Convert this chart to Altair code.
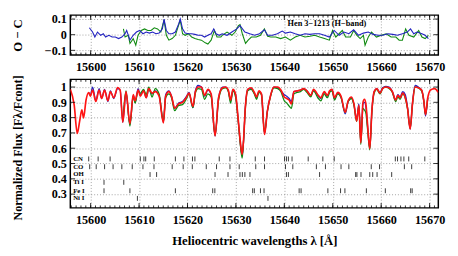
import altair as alt
import pandas as pd

# ---------------- data ----------------
WL = [15595.8, 15596.6, 15597.24, 15597.73, 15598.19, 15598.53, 15599.05, 15599.6, 15599.94, 15600.4,
      15601.07, 15601.75, 15602.27, 15602.88, 15603.56, 15604.08, 15604.77, 15605.57, 15606.1, 15606.64,
      15607.3, 15608.11, 15608.79, 15609.19, 15609.8, 15610.26, 15610.93, 15611.47, 15612.01, 15612.68,
      15613.34, 15614.14, 15615.03, 15615.49, 15616.16, 15616.7, 15617.36, 15618.17, 15618.97, 15619.72,
      15620.32, 15621.13, 15621.63, 15622.19, 15622.88, 15623.54, 15624.2, 15624.89, 15625.69, 15626.42,
      15627.22, 15627.91, 15628.43, 15628.91, 15629.38, 15629.92, 15630.44, 15630.92, 15631.29, 15631.59,
      15631.93, 15632.45, 15633.14, 15633.8, 15634.26, 15634.75, 15635.27, 15635.91, 15636.48, 15637.16,
      15637.83, 15638.63, 15639.29, 15639.98, 15640.5, 15640.99, 15641.45, 15641.99, 15642.66, 15643.32,
      15644.0, 15644.67, 15645.47, 15646.01, 15647.02, 15647.54, 15648.23, 15648.89, 15649.35, 15649.84,
      15650.36, 15651.04, 15651.71, 15652.57, 15653.18, 15653.86, 15654.38, 15654.93, 15655.39, 15655.79,
      15656.24, 15656.54, 15656.84, 15657.2, 15657.64, 15658.09, 15658.55, 15659.09, 15659.76, 15660.3,
      15660.96, 15661.63, 15662.31, 15662.98, 15663.44, 15663.92, 15664.44, 15664.99, 15665.45, 15665.99,
      15666.46, 15667.0, 15667.66, 15668.35, 15668.81, 15669.15, 15669.62, 15670.16, 15671.02, 15671.8]

RED = [0.985, 0.883, 0.696, 0.777, 0.851, 0.798, 0.915, 0.964, 0.94, 0.98,
       0.906, 0.98, 0.926, 0.98, 0.91, 0.97, 0.93, 0.996, 0.98, 0.77,
       0.97, 0.76, 0.95, 0.91, 0.98, 0.94, 0.975, 0.93, 0.99, 0.96,
       0.97, 0.94, 0.766, 0.94, 0.97, 0.94, 0.862, 0.89, 0.90, 0.93,
       0.96, 0.873, 0.97, 1.0, 1.0, 0.945, 0.985, 0.955, 0.68, 0.93,
       0.995, 1.0, 0.98, 0.915, 0.985, 0.955, 0.80, 0.64, 0.56, 0.66,
       0.86, 0.985, 0.995, 0.965, 0.935, 0.975, 0.955, 0.69, 0.84, 0.945,
       1.0, 1.0, 0.98, 0.935, 0.925, 0.915, 0.89, 0.97, 0.975, 0.98,
       0.99, 0.975, 0.945, 0.985, 0.945, 0.93, 0.97, 0.945, 0.975, 0.985,
       0.93, 0.965, 0.94, 0.835, 0.91, 0.935, 0.89, 0.777, 0.88, 0.635,
       0.90, 0.92, 0.89, 0.75, 0.597, 0.85, 0.97, 0.99, 0.96, 0.99,
       1.0, 0.995, 0.97, 0.915, 0.945, 0.93, 0.96, 0.93, 0.86, 0.725,
       0.89, 1.0, 0.995, 0.98, 0.91, 0.82, 0.93, 0.98, 0.99, 0.965]

BLUE = [None, None, None, None, None, None, None, 0.965, 0.945, 1.0,
        0.91, 0.99, 0.925, 0.985, 0.905, 0.975, 0.925, 0.99, 0.98, 0.77,
        0.965, 0.755, 0.945, 0.90, 0.99, 0.95, 0.98, 0.93, 0.985, 0.955,
        0.975, 0.945, 0.77, 0.95, 0.975, 0.94, 0.86, 0.895, 0.905, 0.935,
        0.965, 0.865, 0.975, 1.01, 1.0, 0.94, 0.98, 0.95, 0.68, 0.93,
        1.0, 1.0, 0.975, 0.91, 0.98, 0.95, 0.795, 0.63, 0.55, 0.655,
        0.86, 0.985, 0.99, 0.96, 0.93, 0.97, 0.955, 0.695, 0.84, 0.945,
        1.0, 0.995, 0.975, 0.95, 0.94, 0.925, 0.905, 0.97, 0.975, 0.98,
        0.99, 0.975, 0.945, 0.98, 0.94, 0.925, 0.965, 0.94, 0.97, 0.985,
        0.925, 0.96, 0.935, 0.825, 0.905, 0.93, 0.885, 0.79, 0.89, 0.64,
        0.89, 0.90, 0.87, 0.74, 0.60, 0.85, 0.97, 0.99, 0.965, 0.995,
        1.005, 1.0, 0.97, 0.915, 0.95, 0.935, 0.97, 0.95, 0.865, 0.725,
        0.895, 1.01, 1.0, 0.98, 0.905, 0.81, 0.93, None, None, None]

GREEN = [None, None, None, None, None, None, None, None, None, None,
         None, None, None, None, None, None, None, None, None, 0.78,
         0.975, 0.745, 0.94, 0.895, 0.975, 0.96, 0.985, 0.95, 1.0, 0.935,
         0.99, 0.955, 0.775, 0.93, 0.955, 0.93, 0.845, 0.88, 0.885, 0.92,
         0.955, 0.865, 0.96, 0.99, 0.985, 0.92, 0.955, 0.935, 0.685, 0.915,
         0.99, 0.995, 0.97, 0.895, 0.975, 0.935, 0.79, 0.62, 0.535, 0.65,
         0.85, 0.975, 0.985, 0.955, 0.92, 0.965, 0.95, 0.70, 0.835, 0.94,
         0.995, 0.99, 0.97, 0.91, 0.895, 0.875, 0.86, 0.955, 0.965, 0.97,
         0.985, 0.965, 0.935, 0.975, 0.925, 0.91, 0.955, 0.93, 0.965, 0.975,
         0.915, 0.955, 0.93, 0.835, 0.905, 0.925, 0.88, 0.775, 0.875, 0.625,
         0.86, 0.85, 0.83, 0.72, 0.59, 0.84, 0.96, 0.985, 0.955, 0.99,
         1.0, 0.99, 0.965, 0.905, 0.935, 0.92, 0.955, 0.925, 0.855, 0.73,
         0.885, 1.0, 0.995, 0.975, 0.91, 0.82, 0.93, None, None, None]

RES_B_WL = [15599.73, 15600.4, 15600.87, 15601.41, 15602.08, 15602.62, 15603.09, 15603.76, 15604.43, 15605.1,
            15605.77, 15606.44, 15607.11, 15607.44, 15608.12, 15608.79, 15609.46, 15610.13, 15610.8, 15611.47,
            15612.14, 15612.81, 15613.48, 15614.15, 15614.82, 15615.16, 15615.63, 15616.16, 15616.83, 15617.5,
            15618.18, 15618.51, 15618.98, 15619.52, 15620.19, 15620.86, 15621.53, 15622.2, 15622.87, 15623.54,
            15624.21, 15624.88, 15625.42, 15625.89, 15626.56, 15627.16, 15628.17, 15629.17, 15630.18, 15630.85,
            15631.85, 15632.86, 15633.87, 15634.87, 15635.88, 15636.55, 15637.56, 15638.56, 15639.57, 15640.24,
            15641.24, 15642.25, 15643.26, 15644.26, 15645.27, 15646.27, 15647.28, 15648.29, 15649.29, 15650.3,
            15651.31, 15652.31, 15653.32, 15654.32, 15655.33, 15656.33, 15657.34, 15658.35, 15659.35, 15660.36,
            15661.36, 15662.37, 15663.38, 15664.38, 15665.39, 15666.06, 15666.73, 15667.4, 15668.41, 15669.08,
            15669.75]
RES_B = [0.044, 0.017, -0.015, 0.017, -0.004, 0.006, -0.015, -0.004, -0.015, -0.015,
         -0.025, -0.015, 0.006, 0.027, -0.035, -0.004, 0.017, 0.027, 0.006, 0.017,
         0.010, 0.017, 0.006, 0.010, 0.037, 0.100, 0.027, 0.006, 0.006, 0.017,
         0.069, 0.100, 0.037, 0.010, 0.006, 0.006, 0.002, -0.004, -0.004, -0.015,
         -0.004, 0.006, 0.037, 0.006, -0.004, 0.006, -0.004, 0.017, 0.037, 0.058,
         0.017, 0.006, -0.004, 0.006, 0.031, -0.004, -0.004, 0.006, 0.023, 0.010,
         0.017, 0.006, -0.004, 0.006, 0.002, 0.006, 0.006, -0.004, -0.015, 0.027,
         -0.004, 0.017, 0.006, 0.031, -0.004, 0.010, 0.017, 0.002, -0.004, -0.004,
         0.006, 0.002, -0.004, 0.006, 0.017, 0.037, 0.006, 0.017, 0.006, -0.004,
         -0.025]

RES_G_WL = [15606.77, 15607.11, 15607.78, 15608.12, 15608.79, 15609.32, 15609.79, 15610.46, 15611.13, 15611.8,
            15612.47, 15613.15, 15613.82, 15614.49, 15615.16, 15615.63, 15616.16, 15616.83, 15617.5, 15618.04,
            15618.51, 15618.98, 15619.52, 15620.19, 15620.86, 15621.53, 15622.2, 15622.87, 15623.68, 15624.21,
            15624.88, 15625.55, 15626.09, 15626.89, 15627.16, 15628.17, 15629.17, 15629.84, 15630.51, 15630.85,
            15631.32, 15631.99, 15632.53, 15633.2, 15634.2, 15635.07, 15635.88, 15636.55, 15637.22, 15638.23,
            15639.23, 15640.24, 15641.24, 15642.25, 15643.26, 15644.26, 15645.27, 15646.27, 15647.28, 15648.29,
            15649.29, 15649.96, 15650.63, 15651.31, 15651.98, 15652.65, 15653.65, 15654.32, 15654.99, 15655.66,
            15656.33, 15656.67, 15657.34, 15658.01, 15659.02, 15660.02, 15661.03, 15662.04, 15663.04, 15663.71,
            15664.38, 15665.05, 15665.73, 15666.73, 15667.74, 15668.41, 15669.08, 15669.75]
RES_G = [0.037, -0.015, -0.004, -0.056, -0.025, -0.067, -0.004, 0.027, 0.037, 0.027,
         0.027, 0.044, 0.037, 0.017, 0.094, -0.004, -0.035, -0.025, -0.004, 0.048,
         0.094, 0.006, -0.004, 0.006, -0.015, -0.025, -0.031, -0.035, -0.052, -0.060,
         -0.035, 0.027, -0.015, -0.015, -0.004, 0.017, -0.004, 0.017, 0.058, 0.065,
         0.006, -0.056, -0.035, -0.015, -0.015, -0.004, 0.037, -0.010, -0.015, -0.015,
         -0.025, -0.015, -0.035, -0.015, -0.004, -0.015, -0.010, -0.004, -0.015, -0.025,
         -0.035, 0.027, -0.015, 0.006, 0.027, -0.015, -0.015, 0.027, -0.004, -0.025,
         -0.004, -0.067, -0.015, 0.017, -0.015, -0.004, 0.006, -0.015, -0.015, -0.035,
         -0.035, 0.037, -0.004, -0.015, 0.027, -0.015, -0.025, -0.004]

SPECIES = ["CN", "CO", "OH", "Ti I", "Fe I", "Ni I"]
ROW_Y = [0.53, 0.479, 0.428, 0.377, 0.322, 0.272]
CN = [15599.6, 15601.55, 15604.02, 15610.26, 15611.0, 15611.37, 15613.14, 15617.5, 15619.26, 15621.03,
      15621.53, 15626.56, 15628.77, 15634.0, 15635.91, 15640.04, 15640.44, 15640.84, 15641.59, 15644.93,
      15647.95, 15650.3, 15662.92, 15663.38, 15664.08, 15664.69, 15665.69, 15669.01]
CO = [15599.8, 15601.15, 15602.88, 15604.63, 15606.44, 15608.59, 15610.8, 15613.08, 15616.84, 15619.11,
      15620.99, 15623.88, 15626.0, 15628.77, 15630.68, 15634.1, 15635.91, 15640.24, 15641.75, 15646.62,
      15648.49, 15651.71, 15653.32, 15657.95, 15659.66, 15664.79, 15666.3]
OH = [15612.27, 15613.62, 15625.69, 15628.37, 15630.84, 15631.33, 15631.85, 15632.9, 15640.44, 15640.84,
      15647.28, 15654.73, 15654.99, 15655.83, 15657.64, 15658.25, 15659.15, 15662.17]
TI = [15602.76, 15606.84]
FE = [15602.76, 15608.11, 15617.5, 15625.21, 15625.65, 15633.46, 15633.8, 15635.07, 15635.81, 15643.06,
      15643.46, 15648.99, 15651.61, 15652.51, 15656.94, 15660.86, 15666.09, 15666.4]
NI = [15609.66, 15636.62]
LINE_LISTS = [CN, CO, OH, TI, FE, NI]

X_MAJOR = [15600, 15610, 15620, 15630, 15640, 15650, 15660, 15670]
X_MINOR = list(range(15596, 15672))
TOP_Y_TICKS = [-0.1, 0.0, 0.1]
BOT_Y_TICKS = [0.3, 0.4, 0.5, 0.6, 0.7, 0.8, 0.9, 1.0]

# ---------------- styling ----------------
FONT = "Liberation Serif"
W = 378
H_TOP = 41
H_BOT = 132
C_RED = "#ff1414"
C_BLUE = "#2222c0"
C_GREEN = "#108a10"
GRID = dict(grid=True, gridDash=[1, 2], gridColor="#8a8a8a", gridWidth=0.8)

xs = alt.Scale(domain=[15595.8, 15671.8], nice=False, zero=False)
ys_top = alt.Scale(domain=[-0.13, 0.125], nice=False, zero=False)
ys_bot = alt.Scale(domain=[0.21, 1.05], nice=False, zero=False)

spec = pd.DataFrame({"wl": WL, "red": RED, "blue": BLUE, "green": GREEN})
resb = pd.DataFrame({"wl": RES_B_WL, "r": RES_B})
resg = pd.DataFrame({"wl": RES_G_WL, "r": RES_G})
minors = pd.DataFrame({"t": X_MINOR})
majors = pd.DataFrame({"t": X_MAJOR})


def frame_ticks(ys, yvals, h):
    ytk = pd.DataFrame({"v": yvals})
    layers = []
    for src, ln in ((minors, 2.5), (majors, 5)):
        layers.append(alt.Chart(src).mark_rule(color="black", strokeWidth=0.8).encode(
            x=alt.X("t:Q", scale=xs, axis=None), y=alt.value(0), y2=alt.value(ln)))
        layers.append(alt.Chart(src).mark_rule(color="black", strokeWidth=0.8).encode(
            x=alt.X("t:Q", scale=xs, axis=None), y=alt.value(h), y2=alt.value(h - ln)))
    layers.append(alt.Chart(ytk).mark_rule(color="black", strokeWidth=0.8).encode(
        y=alt.Y("v:Q", scale=ys, axis=None), x=alt.value(0), x2=alt.value(5)))
    layers.append(alt.Chart(ytk).mark_rule(color="black", strokeWidth=0.8).encode(
        y=alt.Y("v:Q", scale=ys, axis=None), x=alt.value(W), x2=alt.value(W - 5)))
    return layers


# ---------------- top panel: O - C ----------------
top_green = alt.Chart(resg).mark_line(color=C_GREEN, strokeWidth=1.1, clip=True).encode(
    x=alt.X("wl:Q", scale=xs, axis=alt.Axis(orient="bottom", values=X_MAJOR, labels=False, ticks=False,
                                             domain=False, title=None, **GRID)),
    y=alt.Y("r:Q", scale=ys_top, axis=alt.Axis(values=TOP_Y_TICKS, format=".1~f", ticks=False, domain=False,
                                                labelPadding=4, title="O − C", titleFontSize=13,
                                                titleX=-54, titleY=H_TOP / 2, titleAngle=-90,
                                                titleAlign="center", titleBaseline="middle", **GRID)),
)
top_blue = alt.Chart(resb).mark_line(color=C_BLUE, strokeWidth=1.1, clip=True).encode(
    x=alt.X("wl:Q", scale=xs, axis=None), y=alt.Y("r:Q", scale=ys_top, axis=None))
top_text = alt.Chart(pd.DataFrame({"wl": [15648.8], "r": [0.074], "t": ["Hen 3−1213 (H−band)"]})).mark_text(
    font=FONT, fontWeight="bold", fontSize=8.5, color="black").encode(
    x=alt.X("wl:Q", scale=xs, axis=None), y=alt.Y("r:Q", scale=ys_top, axis=None), text="t:N")

top = alt.layer(top_green, top_blue, top_text, *frame_ticks(ys_top, TOP_Y_TICKS, H_TOP)).resolve_axis(
    x="independent", y="independent").properties(width=W, height=H_TOP)

# ---------------- bottom panel: spectra ----------------
bot_blue = alt.Chart(spec).mark_line(color=C_BLUE, strokeWidth=1.3, interpolate="monotone", clip=True).encode(
    x=alt.X("wl:Q", scale=xs, axis=alt.Axis(orient="bottom", values=X_MAJOR, format="d", ticks=False,
                                             domain=False, labelPadding=6, title="Heliocentric wavelengths λ [Å]",
                                             titleFontSize=13, titlePadding=9, **GRID)),
    y=alt.Y("blue:Q", scale=ys_bot, axis=alt.Axis(values=BOT_Y_TICKS, format=".1~f", ticks=False, domain=False,
                                                   labelPadding=4, title="Normalized Flux [Fλ/Fcont]",
                                                   titleFontSize=12.5, titleX=-54, titleY=H_BOT / 2 + 4,
                                                   titleAngle=-90, titleAlign="center", titleBaseline="middle",
                                                   **GRID)),
)
bot_green = alt.Chart(spec).mark_line(color=C_GREEN, strokeWidth=1.3, interpolate="monotone", clip=True).encode(
    x=alt.X("wl:Q", scale=xs, axis=alt.Axis(orient="top", values=X_MAJOR, format="d", ticks=False,
                                             domain=False, grid=False, labelPadding=6, title=None)),
    y=alt.Y("green:Q", scale=ys_bot, axis=None))
bot_red = alt.Chart(spec).mark_line(color=C_RED, strokeWidth=1.7, interpolate="monotone", clip=True).encode(
    x=alt.X("wl:Q", scale=xs, axis=None), y=alt.Y("red:Q", scale=ys_bot, axis=None))

rows = []
for name, yv, lst in zip(SPECIES, ROW_Y, LINE_LISTS):
    for w in lst:
        rows.append({"wl": w, "y1": yv - 0.016, "y2": yv + 0.016, "sp": name})
line_df = pd.DataFrame(rows)
line_ticks = alt.Chart(line_df).mark_rule(color="#222222", strokeWidth=0.9).encode(
    x=alt.X("wl:Q", scale=xs, axis=None), y=alt.Y("y1:Q", scale=ys_bot, axis=None), y2="y2:Q")

lab_df = pd.DataFrame({"wl": [15596.4] * len(SPECIES), "y": ROW_Y, "sp": SPECIES})
labels = alt.Chart(lab_df).mark_text(align="left", baseline="middle", font=FONT, fontWeight="bold",
                                     fontSize=7, color="black").encode(
    x=alt.X("wl:Q", scale=xs, axis=None), y=alt.Y("y:Q", scale=ys_bot, axis=None), text="sp:N")

bottom = alt.layer(bot_blue, bot_green, bot_red, line_ticks, labels,
                   *frame_ticks(ys_bot, BOT_Y_TICKS, H_BOT)).resolve_axis(
    x="independent", y="independent").properties(width=W, height=H_BOT)

chart = alt.vconcat(top, bottom, spacing=2).properties(
    padding={"left": 3, "top": 1, "right": 4, "bottom": 0}
).configure_view(stroke="black", strokeWidth=1.5).configure_axis(
    labelFont=FONT, titleFont=FONT, labelFontWeight="bold", titleFontWeight="bold",
    labelColor="black", titleColor="black", labelFontSize=12.5
)

chart.save("out.html", embed_options={"renderer": "svg", "actions": False})
